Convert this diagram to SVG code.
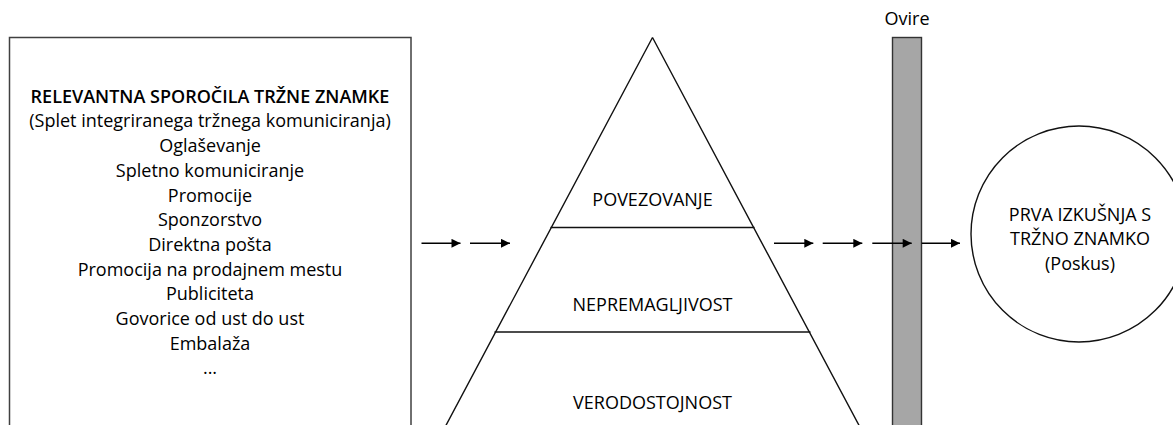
<svg xmlns="http://www.w3.org/2000/svg" width="1173" height="425" viewBox="0 0 1173 425">
  <style>
    text { font-family: "Open Sans", "Noto Sans", "DejaVu Sans", sans-serif; font-size: 18px; fill: #000; text-anchor: middle; }
    .title { font-weight: 600; }
    .frame { fill: #fff; stroke: #404040; stroke-width: 1.5; }
    .edge { fill: none; stroke: #111; stroke-width: 1.4; }
    .flow { fill: none; stroke: #000; stroke-width: 1.4; marker-end: url(#head); }
  </style>
  <defs>
    <marker id="head" viewBox="0 0 10 10" refX="10" refY="5" markerWidth="10" markerHeight="9" markerUnits="userSpaceOnUse" orient="auto">
      <path d="M0,0 L10,5 L0,10 z" fill="#000"/>
    </marker>
  </defs>
  <rect width="1173" height="425" fill="#fff"/>

  <!-- communication channels -->
  <g id="messages">
    <rect class="frame" x="9.5" y="37.5" width="401.5" height="400"/>
    <text class="title" x="210" y="102.7">RELEVANTNA SPOROČILA TRŽNE ZNAMKE</text>
    <text x="210" y="127.4">(Splet integriranega tržnega komuniciranja)</text>
    <text x="210" y="152.1">Oglaševanje</text>
    <text x="210" y="176.8">Spletno komuniciranje</text>
    <text x="210" y="201.5">Promocije</text>
    <text x="210" y="226.2">Sponzorstvo</text>
    <text x="210" y="250.9">Direktna pošta</text>
    <text x="210" y="275.6">Promocija na prodajnem mestu</text>
    <text x="210" y="300.3">Publiciteta</text>
    <text x="210" y="325">Govorice od ust do ust</text>
    <text x="210" y="349.7">Embalaža</text>
    <text x="210" y="374.4">...</text>
  </g>

  <!-- three-level pyramid -->
  <g id="pyramid">
    <path class="edge" d="M652.5,37.5 L443.5,430 M652.5,37.5 L861.5,430"/>
    <line class="edge" x1="550.5" y1="227.5" x2="754.5" y2="227.5"/>
    <line class="edge" x1="494.5" y1="332" x2="810.5" y2="332"/>
    <text x="652.5" y="205.7">POVEZOVANJE</text>
    <text x="652.5" y="311">NEPREMAGLJIVOST</text>
    <text x="652.5" y="409.3">VERODOSTOJNOST</text>
  </g>

  <!-- barrier bar -->
  <g id="barrier">
    <rect x="892.5" y="37.5" width="29" height="400" fill="#a6a6a6" stroke="#333" stroke-width="1.4"/>
    <text x="907" y="25">Ovire</text>
  </g>

  <!-- outcome -->
  <g id="trial">
    <circle cx="1079" cy="234" r="108" fill="#fff" stroke="#111" stroke-width="1.4"/>
    <text x="1080" y="220.5">PRVA IZKUŠNJA S</text>
    <text x="1080" y="245">TRŽNO ZNAMKO</text>
    <text x="1080" y="269.5">(Poskus)</text>
  </g>

  <g id="connectors">
    <line class="flow" x1="421.5" y1="243.3" x2="460.5" y2="243.3"/>
    <line class="flow" x1="470" y1="243.3" x2="510" y2="243.3"/>
    <line class="flow" x1="774" y1="243.3" x2="813.3" y2="243.3"/>
    <line class="flow" x1="822.7" y1="243.3" x2="862.3" y2="243.3"/>
    <line class="flow" x1="872.3" y1="243.3" x2="911.7" y2="243.3"/>
    <line class="flow" x1="921.7" y1="243.3" x2="960" y2="243.3"/>
  </g>
</svg>
